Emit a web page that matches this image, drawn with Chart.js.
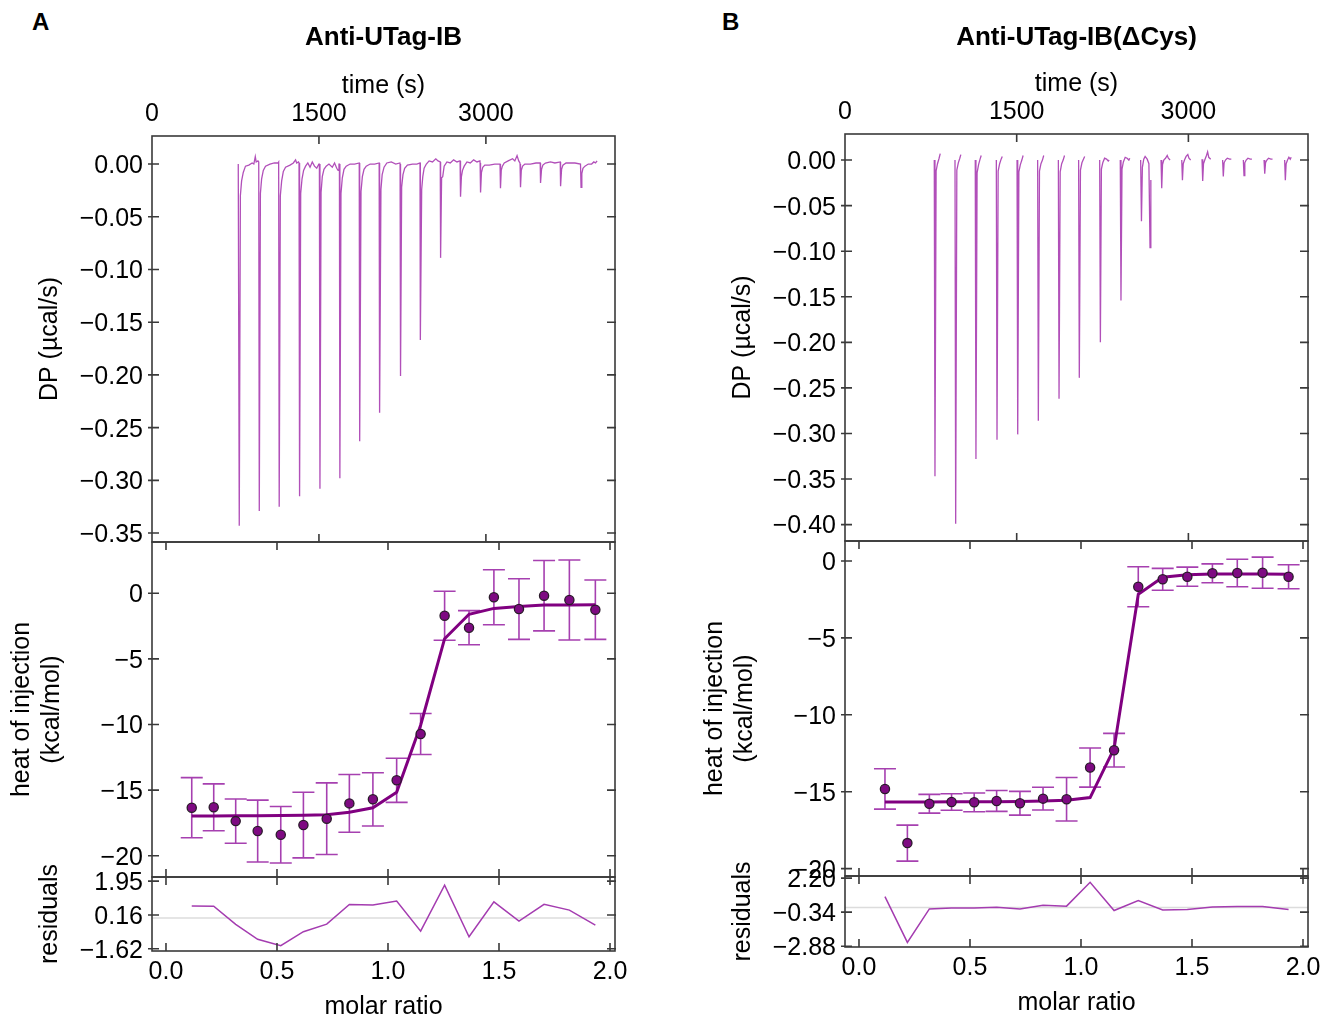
<!DOCTYPE html>
<html>
<head>
<meta charset="utf-8">
<title>ITC titrations</title>
<script src="https://cdn.jsdelivr.net/npm/chart.js@4.4.1/dist/chart.umd.min.js"></script>
<style>
  html, body { margin: 0; padding: 0; background: #fff; }
  #page { position: relative; width: 1323px; height: 1016px; overflow: hidden; }
  #page canvas { position: absolute; }
  .tag { position: absolute; font: bold 24px 'Liberation Sans', Arial, sans-serif; color: #000; }
</style>
</head>
<body>
<div id="page">
  <div class="tag" style="left:32px;top:8px">A</div>
  <div class="tag" style="left:722px;top:8px">B</div>
</div>
<script>
// axis ticks
const timeTicks = [0, 1500, 3000];
const ratioTicks = [0, 0.5, 1.0, 1.5, 2.0];
const heatTicks = [0, -5, -10, -15, -20];
const dpTicksA = [0, -0.05, -0.10, -0.15, -0.20, -0.25, -0.30, -0.35];
const dpTicksB = [0, -0.05, -0.10, -0.15, -0.20, -0.25, -0.30, -0.35, -0.40];
const residTicksA = [1.95, 0.16, -1.62];
const residTicksB = [2.20, -0.34, -2.88];

// raw thermograms, [time (s), DP (µcal/s)]; null = no recording between injections
const thermoA = [
  [775, 0.000], [784, -0.343], [794, -0.030], [805, -0.016], [820, -0.008], [840, -0.002],
  [870, -0.001], [900, 0.001], [915, 0.000], [928, 0.007], [936, 0.002], [952, 0.003],
  [959, 0.002], [964, -0.329], [974, -0.028], [985, -0.014], [1000, -0.006], [1020, -0.002],
  [1060, 0.000], [1100, 0.001], [1132, 0.001],
  [1138, 0.002], [1143, -0.325], [1153, -0.030], [1165, -0.016], [1180, -0.007], [1200, -0.003],
  [1240, -0.001], [1270, 0.001], [1290, 0.004], [1300, 0.001], [1316, 0.002],
  [1321, 0.001], [1326, -0.315], [1336, -0.028], [1348, -0.014], [1362, -0.006], [1380, -0.002],
  [1400, 0.001], [1420, -0.003], [1440, 0.002], [1460, -0.002], [1480, -0.004], [1499, 0.000],
  [1504, 0.000], [1509, -0.308], [1519, -0.027], [1530, -0.012], [1545, -0.005], [1565, -0.002],
  [1590, 0.000], [1620, -0.003], [1640, 0.001], [1660, -0.004], [1672, -0.006], [1680, 0.000],
  [1684, 0.000], [1688, -0.298], [1698, -0.028], [1710, -0.013], [1725, -0.005], [1745, -0.002],
  [1780, 0.000], [1820, 0.000], [1862, 0.001],
  [1864, 0.000], [1868, -0.263], [1878, -0.026], [1890, -0.012], [1905, -0.005], [1925, -0.002],
  [1960, 0.000], [2000, 0.000], [2041, 0.001],
  [2043, 0.001], [2047, -0.236], [2057, -0.024], [2068, -0.010], [2085, -0.003], [2110, 0.001],
  [2150, 0.002], [2190, 0.000], [2227, 0.001],
  [2229, 0.000], [2233, -0.201], [2243, -0.022], [2255, -0.010], [2270, -0.004], [2295, -0.001],
  [2340, 0.000], [2380, 0.000], [2408, 0.001],
  [2409, 0.000], [2413, -0.167], [2423, -0.024], [2433, -0.012], [2445, -0.004], [2465, 0.000],
  [2490, 0.003], [2520, 0.002], [2550, 0.005], [2570, 0.003], [2590, 0.002],
  [2591, 0.002], [2595, -0.089], [2602, -0.013], [2612, -0.012], [2625, -0.002], [2650, 0.002],
  [2680, 0.001], [2710, 0.004], [2740, 0.002], [2766, 0.003],
  [2768, 0.003], [2772, -0.031], [2780, -0.012], [2790, -0.006], [2805, -0.002], [2830, 0.002],
  [2860, 0.001], [2890, 0.004], [2920, 0.002], [2946, 0.003],
  [2948, 0.001], [2952, -0.027], [2960, -0.008], [2972, -0.003], [2990, -0.001], [3030, -0.001],
  [3080, 0.000], [3126, 0.000],
  [3127, 0.000], [3131, -0.023], [3138, -0.006], [3148, -0.002], [3165, 0.001], [3200, 0.003],
  [3240, 0.005], [3260, 0.003], [3280, 0.008], [3295, 0.003], [3306, 0.001],
  [3307, 0.000], [3311, -0.022], [3318, -0.006], [3330, -0.002], [3350, 0.000], [3400, 0.000],
  [3450, 0.001], [3488, 0.001],
  [3489, 0.001], [3493, -0.018], [3500, -0.005], [3512, -0.001], [3535, 0.001], [3580, 0.002],
  [3620, 0.001], [3668, 0.002],
  [3669, 0.001], [3673, -0.021], [3680, -0.005], [3692, -0.001], [3720, 0.001], [3760, 0.001],
  [3800, 0.001], [3850, 0.000],
  [3851, 0.000], [3855, -0.022], [3862, -0.009], [3872, -0.004], [3890, -0.002], [3920, 0.000],
  [3950, 0.000], [3970, 0.002], [3985, 0.001], [3999, 0.003]
];

const thermoB = [
  [780, 0.000], [786, -0.347], [796, -0.012], [808, -0.004], [822, 0.002], [832, 0.007], [833, null],
  [961, 0.000], [967, -0.399], [977, -0.011], [990, -0.003], [1003, 0.002], [1012, 0.006], [1013, null],
  [1138, 0.000], [1144, -0.328], [1154, -0.014], [1167, -0.005], [1180, 0.001], [1190, 0.005], [1191, null],
  [1322, 0.000], [1328, -0.307], [1338, -0.012], [1351, -0.004], [1364, 0.001], [1374, 0.004], [1375, null],
  [1503, 0.000], [1509, -0.301], [1519, -0.013], [1532, -0.005], [1545, 0.000], [1556, 0.005], [1557, null],
  [1683, 0.000], [1689, -0.286], [1699, -0.012], [1712, -0.004], [1725, 0.000], [1736, 0.005], [1737, null],
  [1864, 0.000], [1870, -0.262], [1880, -0.013], [1893, -0.004], [1906, 0.000], [1918, 0.005], [1919, null],
  [2041, 0.000], [2047, -0.239], [2057, -0.011], [2070, -0.003], [2083, 0.001], [2094, 0.004], [2095, null],
  [2225, 0.000], [2231, -0.200], [2240, -0.010], [2252, -0.003], [2268, 0.002], [2285, 0.001],
  [2300, -0.001], [2308, 0.000], [2309, null],
  [2405, 0.000], [2411, -0.154], [2420, -0.010], [2432, -0.002], [2448, 0.003], [2465, 0.002],
  [2480, 0.000], [2488, 0.002], [2489, null],
  [2583, 0.000], [2590, -0.067], [2598, -0.008], [2610, 0.001], [2622, 0.004], [2640, 0.001],
  [2655, -0.004], [2665, -0.096], [2672, -0.022], [2673, null],
  [2761, 0.000], [2767, -0.031], [2774, -0.005], [2785, 0.000], [2800, 0.002], [2815, 0.005],
  [2825, 0.002], [2840, 0.000], [2841, null],
  [2942, 0.000], [2948, -0.022], [2955, -0.004], [2966, 0.000], [2980, 0.004], [2995, 0.006],
  [3005, 0.002], [3020, 0.000], [3021, null],
  [3119, 0.001], [3125, -0.023], [3132, -0.004], [3143, 0.000], [3158, 0.005], [3168, 0.009],
  [3178, 0.003], [3195, 0.001], [3196, null],
  [3299, 0.000], [3305, -0.018], [3312, -0.003], [3324, 0.000], [3340, 0.002], [3360, 0.001],
  [3375, 0.001], [3376, null],
  [3480, 0.000], [3486, -0.017], [3493, -0.003], [3505, 0.000], [3520, 0.002], [3540, 0.001],
  [3555, 0.001], [3556, null],
  [3661, 0.000], [3667, -0.015], [3674, -0.003], [3686, 0.000], [3700, 0.002], [3720, 0.001],
  [3735, 0.001], [3736, null],
  [3841, 0.000], [3847, -0.022], [3854, -0.004], [3866, 0.000], [3878, 0.003], [3890, 0.001],
  [3898, 0.003]
];

// integrated heats (kcal/mol) per injection, fit and residuals
const ratioA = [0.116, 0.215, 0.314, 0.413, 0.517, 0.619, 0.724, 0.826, 0.932, 1.039, 1.147, 1.255, 1.365, 1.477, 1.590, 1.703, 1.817, 1.934];
const heatA = [-16.34, -16.31, -17.36, -18.12, -18.40, -17.66, -17.18, -16.01, -15.70, -14.25, -10.72, -1.71, -2.62, -0.30, -1.20, -0.18, -0.51, -1.25];
const heatErrA = [2.29, 1.79, 1.69, 2.36, 2.15, 2.50, 2.73, 2.20, 2.03, 1.68, 1.56, 1.87, 1.30, 2.10, 2.31, 2.68, 3.05, 2.26];
const fitA = [-16.97, -16.97, -16.96, -16.95, -16.94, -16.92, -16.87, -16.69, -16.34, -15.17, -10.05, -3.46, -1.60, -1.15, -1.00, -0.90, -0.89, -0.88];
const residA = [0.64, 0.63, -0.33, -1.12, -1.46, -0.72, -0.32, 0.72, 0.69, 0.90, -0.69, 1.74, -0.99, 0.86, -0.16, 0.73, 0.42, -0.37];

const ratioB = [0.117, 0.218, 0.317, 0.417, 0.519, 0.620, 0.725, 0.829, 0.935, 1.041, 1.149, 1.258, 1.368, 1.479, 1.592, 1.704, 1.818, 1.935];
const heatB = [-14.82, -18.34, -15.78, -15.67, -15.69, -15.60, -15.75, -15.45, -15.49, -13.43, -12.30, -1.67, -1.19, -1.02, -0.80, -0.78, -0.76, -1.02];
const heatErrB = [1.31, 1.17, 0.61, 0.54, 0.61, 0.68, 0.77, 0.74, 1.41, 1.27, 1.09, 1.30, 0.71, 0.62, 0.61, 0.89, 1.01, 0.78];
const fitB = [-15.67, -15.67, -15.67, -15.66, -15.66, -15.65, -15.64, -15.61, -15.56, -15.38, -12.20, -2.17, -1.06, -0.89, -0.85, -0.85, -0.85, -0.86];
const residB = [0.82, -2.60, -0.10, -0.02, -0.02, 0.03, -0.10, 0.18, 0.11, 1.89, -0.22, 0.52, -0.17, -0.14, 0.05, 0.08, 0.08, -0.14];

const FONT = "'Liberation Sans', Arial, sans-serif";
Chart.defaults.font.family = FONT;
Chart.defaults.color = '#000';

const tickFont = { size: 25, lineHeight: 1.2 };
const axisTitleFont = { size: 25, lineHeight: 1.2 };
const RATIO_MIN = -0.063, RATIO_MAX = 2.0225;

const panels = [
  {
    title: 'Anti-UTag-IB', thermo: thermoA, timeMax: 4160, dpMin: -0.3585, dpMax: 0.0266, dpTicks: dpTicksA,
    ratio: ratioA, heat: heatA, heatErr: heatErrA, fit: fitA, resid: residA,
    heatMin: -21.62, heatMax: 3.91, residMin: -1.74, residMax: 2.17, residTicks: residTicksA,
    dpArea: { left: 152, top: 136, right: 615, bottom: 542 },
    heatArea: { left: 152, top: 542, right: 615, bottom: 877 },
    residArea: { left: 152, top: 877, right: 615, bottom: 951 }
  },
  {
    title: 'Anti-UTag-IB(\u0394Cys)', thermo: thermoB, timeMax: 4045, dpMin: -0.418, dpMax: 0.0286, dpTicks: dpTicksB,
    ratio: ratioB, heat: heatB, heatErr: heatErrB, fit: fitB, resid: residB,
    heatMin: -20.48, heatMax: 1.30, residMin: -2.94, residMax: 2.36, residTicks: residTicksB,
    dpArea: { left: 845, top: 134, right: 1308, bottom: 541 },
    heatArea: { left: 845, top: 541, right: 1308, bottom: 876 },
    residArea: { left: 845, top: 876, right: 1308, bottom: 947 }
  }
];

// tick label with a real minus sign
function fmt(digits) {
  return v => (Math.abs(v) < 1e-9 ? (0).toFixed(digits) : v.toFixed(digits).replace('-', '\u2212'));
}

function fixedTicks(values) {
  return scale => { scale.ticks = values.map(v => ({ value: v })); };
}

function addCanvas(left, top, width, height) {
  const c = document.createElement('canvas');
  c.width = width;
  c.height = height;
  c.style.left = left + 'px';
  c.style.top = top + 'px';
  c.style.width = width + 'px';
  c.style.height = height + 'px';
  document.getElementById('page').appendChild(c);
  return c;
}

// box around the plot, inward tick marks, zero line and error bars
function framePlugin(xId, xValues, extras) {
  return {
    id: 'frame',
    beforeDatasetsDraw(chart) {
      const { ctx, chartArea: a, scales } = chart;
      const y = scales.y, x = scales[xId];
      ctx.save();
      if (extras.zeroLine) {
        const py = y.getPixelForValue(0);
        ctx.strokeStyle = '#dcdcdc';
        ctx.lineWidth = 1.5;
        ctx.beginPath();
        ctx.moveTo(a.left, py);
        ctx.lineTo(a.right, py);
        ctx.stroke();
      }
      if (extras.errors) {
        const { xs, ys, errs } = extras.errors;
        ctx.strokeStyle = '#a640b0';
        ctx.lineWidth = 1.6;
        ctx.beginPath();
        xs.forEach((v, i) => {
          const px = x.getPixelForValue(v);
          const hi = y.getPixelForValue(ys[i] + errs[i]);
          const lo = y.getPixelForValue(ys[i] - errs[i]);
          ctx.moveTo(px, hi); ctx.lineTo(px, lo);
          ctx.moveTo(px - 11, hi); ctx.lineTo(px + 11, hi);
          ctx.moveTo(px - 11, lo); ctx.lineTo(px + 11, lo);
        });
        ctx.stroke();
      }
      ctx.restore();
    },
    afterDatasetsDraw(chart) {
      const { ctx, chartArea: a, scales } = chart;
      const y = scales.y, x = scales[xId];
      ctx.save();
      ctx.strokeStyle = '#3a3a3a';
      ctx.lineWidth = 1.6;
      ctx.strokeRect(a.left, a.top, a.right - a.left, a.bottom - a.top);
      ctx.beginPath();
      y.ticks.forEach(t => {
        const py = y.getPixelForValue(t.value);
        ctx.moveTo(a.left - 4, py); ctx.lineTo(a.left + 7, py);
        ctx.moveTo(a.right - 8, py); ctx.lineTo(a.right + 1, py);
      });
      xValues.forEach(v => {
        const px = x.getPixelForValue(v);
        if (px <= a.left + 1) return;
        ctx.moveTo(px, a.top); ctx.lineTo(px, a.top + 8);
        ctx.moveTo(px, a.bottom - 8); ctx.lineTo(px, a.bottom);
      });
      ctx.stroke();
      ctx.restore();
    }
  };
}

const noGrid = { display: false, drawTicks: false };

function yAxis(min, max, ticks, digits, title, titlePad) {
  return {
    type: 'linear', min: min, max: max,
    grid: noGrid, border: { display: false },
    afterBuildTicks: fixedTicks(ticks),
    afterFit: s => { s.width = 152; },
    ticks: { font: tickFont, padding: 9, labelOffset: 2, autoSkip: false, callback: fmt(digits) },
    title: { display: true, text: title, font: axisTitleFont, padding: { top: titlePad, bottom: 0 } }
  };
}

const baseOptions = {
  responsive: false,
  animation: false,
  devicePixelRatio: 1,
  events: []
};

// thermogram with the panel title and the time axis on top
function thermoChart(p) {
  const a = p.dpArea;
  const left = a.left - 152;
  const canvas = addCanvas(left, 0, a.right + 35 - left, a.bottom + 33);
  const titleBox = a.top - 76;
  new Chart(canvas, {
    type: 'scatter',
    data: {
      datasets: [{
        data: p.thermo.map(([t, v]) => ({ x: t, y: v })),
        showLine: true, spanGaps: false, pointRadius: 0,
        borderColor: 'rgba(155, 30, 165, 0.78)', borderWidth: 1.3
      }]
    },
    options: Object.assign({}, baseOptions, {
      layout: { padding: { left: 0, top: 0, right: 35, bottom: 33 } },
      plugins: {
        legend: { display: false },
        tooltip: { enabled: false },
        title: {
          display: true, text: p.title, fullSize: false, color: '#000',
          font: { size: 26, weight: 'bold', lineHeight: 1.2 },
          padding: { top: 22.4, bottom: titleBox - 22.4 - 31.2 }
        }
      },
      scales: {
        x: {
          type: 'linear', position: 'top', min: 0, max: p.timeMax,
          grid: noGrid, border: { display: false },
          afterBuildTicks: fixedTicks(timeTicks),
          afterFit: s => { s.height = 76; },
          ticks: { font: tickFont, padding: 7, maxRotation: 0, callback: v => String(v) },
          title: { display: true, text: 'time (s)', font: axisTitleFont, padding: { top: 11, bottom: 0 } }
        },
        y: yAxis(p.dpMin, p.dpMax, p.dpTicks, 2, 'DP (\u00b5cal/s)', 35)
      }
    }),
    plugins: [framePlugin('x', timeTicks, {})]
  });
}

// binding isotherm: points with error bars and the fitted curve
function heatChart(p) {
  const a = p.heatArea;
  const left = a.left - 152, top = a.top - 37;
  const canvas = addCanvas(left, top, a.right + 35 - left, a.bottom + 33 - top);
  new Chart(canvas, {
    type: 'scatter',
    data: {
      datasets: [
        {
          data: p.ratio.map((r, i) => ({ x: r, y: p.heat[i] })),
          pointRadius: 4.6, backgroundColor: '#7e0a82',
          borderColor: '#2a1a2a', borderWidth: 1.3
        },
        {
          data: p.ratio.map((r, i) => ({ x: r, y: p.fit[i] })),
          showLine: true, pointRadius: 0,
          borderColor: '#800080', borderWidth: 3
        }
      ]
    },
    options: Object.assign({}, baseOptions, {
      layout: { padding: { left: 0, top: 37, right: 35, bottom: 33 } },
      plugins: { legend: { display: false }, tooltip: { enabled: false } },
      scales: {
        x: { type: 'linear', display: false, min: RATIO_MIN, max: RATIO_MAX },
        y: yAxis(p.heatMin, p.heatMax, heatTicks, 0, ['heat of injection', '(kcal/mol)'], 7)
      }
    }),
    plugins: [framePlugin('x', ratioTicks, { errors: { xs: p.ratio, ys: p.heat, errs: p.heatErr } })]
  });
}

// fit residuals with the molar ratio axis
function residChart(p) {
  const a = p.residArea;
  const left = a.left - 152, top = a.top - 37;
  const canvas = addCanvas(left, top, a.right + 35 - left, a.bottom + 80 - top);
  new Chart(canvas, {
    type: 'scatter',
    data: {
      datasets: [{
        data: p.ratio.map((r, i) => ({ x: r, y: p.resid[i] })),
        showLine: true, pointRadius: 0,
        borderColor: '#a43cb0', borderWidth: 1.5
      }]
    },
    options: Object.assign({}, baseOptions, {
      layout: { padding: { left: 0, top: 37, right: 35, bottom: 0 } },
      plugins: { legend: { display: false }, tooltip: { enabled: false } },
      scales: {
        x: {
          type: 'linear', position: 'bottom', min: RATIO_MIN, max: RATIO_MAX,
          grid: noGrid, border: { display: false },
          afterBuildTicks: fixedTicks(ratioTicks),
          afterFit: s => { s.height = 80; },
          ticks: { font: tickFont, padding: 6, maxRotation: 0, callback: fmt(1) },
          title: { display: true, text: 'molar ratio', font: axisTitleFont, padding: { top: 0, bottom: 9 } }
        },
        y: yAxis(p.residMin, p.residMax, p.residTicks, 2, 'residuals', 35)
      }
    }),
    plugins: [framePlugin('x', ratioTicks, { zeroLine: true })]
  });
}

panels.forEach(p => {
  thermoChart(p);
  heatChart(p);
  residChart(p);
});
</script>
</body>
</html>
